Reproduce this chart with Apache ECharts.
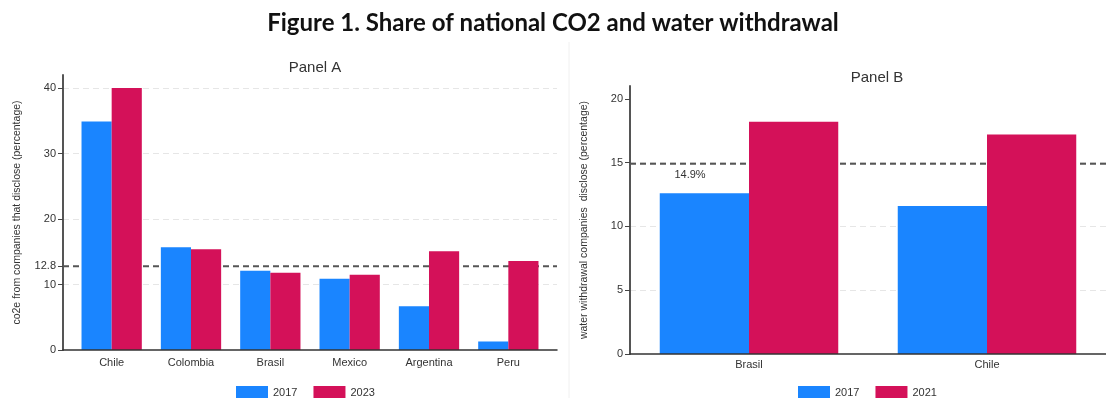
<!DOCTYPE html>
<html>
<head>
<meta charset="utf-8">
<script src="https://cdn.jsdelivr.net/npm/echarts@6/dist/echarts.min.js"></script>
<style>html,body{margin:0;padding:0;background:#fff;}#c{width:1106px;height:398px;}</style>
</head>
<body>
<div id="c"></div>
<script>
const mainTitle = 'Figure 1. Share of national CO2 and water withdrawal';
const titleA = 'Panel A';
const titleB = 'Panel B';
const yNameA = 'co2e from companies that disclose (percentage)';
const yNameB = 'water withdrawal companies  disclose (percentage)';
const catsA = ['Chile', 'Colombia', 'Brasil', 'Mexico', 'Argentina', 'Peru'];
const a2017 = [34.9, 15.7, 12.1, 10.9, 6.7, 1.3];
const a2023 = [40.0, 15.4, 11.8, 11.5, 15.1, 13.6];
const refA = 12.8;
const ticksA = [0, 10, 20, 30, 40];
const catsB = ['Brasil', 'Chile'];
const b2017 = [12.6, 11.6];
const b2021 = [18.2, 17.2];
const refB = 14.9;
const ticksB = [0, 5, 10, 15, 20];
const seriesNamesA = ['2017', '2023'];
const seriesNamesB = ['2017', '2021'];

const FONT = 'Liberation Sans';
const BLUE = '#1A85FF';
const RED = '#D41159';
const xLineStyle = { color: '#333', width: 1.5 };
const yLineStyle = { color: '#555', width: 2 };
const gridLineStyle = { color: '#e6e6e6', type: [6, 4], width: 1 };
const lblStyle = { fontFamily: FONT, fontSize: 11, color: '#333' };

const chart = echarts.init(document.getElementById('c'), null, { renderer: 'canvas' });
chart.setOption({
  animation: false,
  backgroundColor: '#fff',
  graphic: [
    { type: 'line', shape: { x1: 569, y1: 42, x2: 569, y2: 398 }, style: { stroke: '#f0f0f0', lineWidth: 1 }, silent: true, z: 0 }
  ],
  title: [
    { text: mainTitle, left: 'center', top: 6, textStyle: { fontFamily: 'Lato', fontWeight: 'bold', fontSize: 24, color: '#111' } },
    { text: titleA, left: 310, textAlign: 'center', top: 55, textStyle: { fontFamily: FONT, fontWeight: 'normal', fontSize: 15, color: '#333' } },
    { text: titleB, left: 872, textAlign: 'center', top: 65, textStyle: { fontFamily: FONT, fontWeight: 'normal', fontSize: 15, color: '#333' } }
  ],
  legend: [
    { data: seriesNamesA, left: 231, top: 381, itemWidth: 32, itemHeight: 14, itemGap: 16, icon: 'rect', textStyle: lblStyle },
    { data: seriesNamesB, left: 793, top: 381, itemWidth: 32, itemHeight: 14, itemGap: 16, icon: 'rect', textStyle: lblStyle }
  ],
  grid: [
    { left: 72, top: 75, width: 476, height: 275 },
    { left: 63, top: 75, width: 494, height: 275 },
    { left: 630, top: 86, width: 480, height: 268 },
    { left: 630, top: 86, width: 480, height: 268 }
  ],
  xAxis: [
    { gridIndex: 0, type: 'category', data: catsA, axisLine: { show: false }, axisTick: { show: false }, axisLabel: Object.assign({ margin: 7 }, lblStyle) },
    { gridIndex: 1, type: 'value', min: 0, max: 1, z: 3, axisLine: { show: true, lineStyle: xLineStyle }, axisTick: { show: false }, axisLabel: { show: false }, splitLine: { show: false } },
    { gridIndex: 2, type: 'category', data: catsB, z: 3, axisLine: { show: true, lineStyle: xLineStyle }, axisTick: { show: false }, axisLabel: Object.assign({ margin: 5 }, lblStyle) },
    { gridIndex: 3, type: 'value', min: 0, max: 1, show: false }
  ],
  yAxis: [
    { gridIndex: 0, type: 'value', min: 0, max: 42, show: false },
    { gridIndex: 1, type: 'value', min: 0, max: 42, interval: 10,
      name: yNameA, nameLocation: 'middle', nameGap: 40,
      nameTextStyle: { fontFamily: FONT, fontSize: 10.5, color: '#333' },
      axisLine: { show: true, lineStyle: yLineStyle },
      axisTick: { show: true, length: 5, lineStyle: { color: '#444' }, customValues: ticksA.concat([refA]) },
      axisLabel: Object.assign({ margin: 7, customValues: ticksA.concat([refA]) }, lblStyle),
      splitLine: { show: true, showMinLine: false, showMaxLine: false, lineStyle: gridLineStyle } },
    { gridIndex: 2, type: 'value', min: 0, max: 21, interval: 5,
      name: yNameB, nameLocation: 'middle', nameGap: 40,
      nameTextStyle: { fontFamily: FONT, fontSize: 10.5, color: '#333' },
      axisLine: { show: true, lineStyle: yLineStyle },
      axisTick: { show: true, length: 5, lineStyle: { color: '#444' }, customValues: ticksB },
      axisLabel: Object.assign({ margin: 7, customValues: ticksB }, lblStyle),
      splitLine: { show: true, showMinLine: false, showMaxLine: false, lineStyle: gridLineStyle } },
    { gridIndex: 3, type: 'value', min: 0, max: 21, show: false }
  ],
  series: [
    { name: seriesNamesA[0], type: 'bar', xAxisIndex: 0, yAxisIndex: 0, data: a2017, itemStyle: { color: BLUE }, barGap: '0%', barCategoryGap: '24%', z: 2 },
    { name: seriesNamesA[1], type: 'bar', xAxisIndex: 0, yAxisIndex: 0, data: a2023, itemStyle: { color: RED }, barGap: '0%', barCategoryGap: '24%', z: 2 },
    { name: 'refA', type: 'line', xAxisIndex: 1, yAxisIndex: 1, data: [[0, refA], [1, refA]], symbol: 'none', silent: true, z: 1,
      lineStyle: { color: '#555', width: 2, type: [6, 4] } },
    { name: seriesNamesB[0], type: 'bar', xAxisIndex: 2, yAxisIndex: 2, data: b2017, itemStyle: { color: BLUE }, barGap: '0%', barCategoryGap: '25%', z: 2 },
    { name: seriesNamesB[1], type: 'bar', xAxisIndex: 2, yAxisIndex: 2, data: b2021, itemStyle: { color: RED }, barGap: '0%', barCategoryGap: '25%', z: 2 },
    { name: 'refB', type: 'line', xAxisIndex: 3, yAxisIndex: 3, symbol: 'circle', symbolSize: 0, showSymbol: true, silent: true, z: 1,
      itemStyle: { color: '#555' },
      lineStyle: { color: '#555', width: 2, type: [6, 4] },
      data: [
        { value: [0, refB], label: { show: true, position: 'bottom', formatter: refB + '%', offset: [60, 1], fontFamily: FONT, fontSize: 11, color: '#333' } },
        [1, refB]
      ] }
  ]
});
</script>
</body>
</html>
